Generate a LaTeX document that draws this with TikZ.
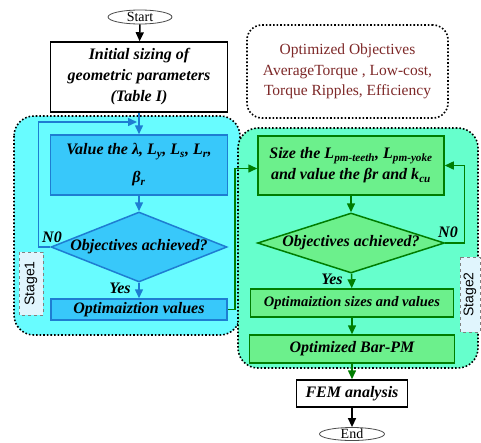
\documentclass[tikz,border=0pt]{standalone}
\usepackage{fontspec}
\setmainfont{Liberation Serif}
\newfontfamily\stagefont{Liberation Sans}
\usepackage{xcolor}
\usepackage{tikz}
\usetikzlibrary{arrows.meta, positioning, calc, shapes.geometric}

\definecolor{stageone}{RGB}{104,252,255}
\definecolor{stagetwo}{RGB}{102,255,204}
\definecolor{bluebox}{RGB}{56,200,250}
\definecolor{blueline}{RGB}{30,125,210}
\definecolor{greenbox}{RGB}{108,240,140}
\definecolor{greenline}{RGB}{0,125,0}
\definecolor{objred}{RGB}{125,40,40}

\begin{document}
\begin{tikzpicture}[x=1pt, y=-1pt,
  txt/.style={font=\fontsize{16}{21}\selectfont\bfseries\itshape, align=center},
  bstep/.style={txt, draw=blueline, fill=bluebox, line width=1.5pt, inner sep=0pt},
  gstep/.style={txt, draw=greenline, fill=greenbox, line width=1.5pt, inner sep=0pt},
  kstep/.style={txt, draw=black, fill=white, line width=1.5pt, inner sep=0pt},
  term/.style={ellipse, draw=black!70, fill=white, line width=0.8pt, inner xsep=0pt,
    inner ysep=-2.5pt, font=\fontsize{14}{14}\selectfont},
  region/.style={draw=black, dotted, line width=1.6pt, rounded corners=20pt},
  stagelbl/.style={draw=gray, dashed, fill=white!88!cyan, line width=0.8pt, rotate=90,
    inner sep=0pt, font=\stagefont\fontsize{14}{14}\selectfont},
  barrow/.style={draw=blueline, line width=1.5pt, -{Triangle[length=9pt,width=8pt]}},
  garrow/.style={draw=greenline, line width=1.5pt, -{Triangle[length=9pt,width=8pt]}},
  karrow/.style={draw=black, line width=1.5pt, -{Triangle[length=9pt,width=8pt]}}]

  \useasboundingbox (0,0) rectangle (481,442);

  % Stage regions
  \filldraw[region, fill=stageone] (14,116) rectangle (240,335);
  \filldraw[region, fill=stagetwo] (238,128) rectangle (478,368);

  % Objectives note
  \node[region, rounded corners=15pt, minimum width=201pt, minimum height=93pt,
    text=objred, align=center, font=\fontsize{15.5}{20.5}\selectfont] (objectives) at (347.5,71.5)
    {Optimized Objectives\\AverageTorque , Low-cost,\\Torque Ripples, Efficiency};

  % Start and initial sizing
  \node[term, minimum width=64pt, minimum height=14pt] (start) at (140,17) {Start};
  \node[kstep, minimum width=177pt, minimum height=70pt] (init) at (139,77)
    {Initial sizing of\\geometric parameters\\(Table I)};

  % Stage 1
  \node[bstep, minimum width=177pt, minimum height=60pt,
    font=\fontsize{16}{28}\selectfont\bfseries\itshape] (value) at (139,165)
    {Value the λ, L\textsubscript{y}, L\textsubscript{s}, L\textsubscript{r},\\β\textsubscript{r}};
  \node[bstep, diamond, aspect=2.5, minimum width=176pt, minimum height=70pt,
    label={[txt]center:Objectives achieved?}] (dia1) at (139,247) {};
  \node[bstep, minimum width=176pt, minimum height=21pt] (opt1) at (139,309.5)
    {Optimaiztion values};
  \node[stagelbl, minimum width=63pt, minimum height=24pt] (stage1) at (31,283.5) {Stage1};
  \node[txt] (no1) at (52,237) {N0};
  \node[txt] (yes1) at (120,288) {Yes};
  \coordinate (loopin) at (137,122);

  % Stage 2
  \node[gstep, minimum width=186pt, minimum height=59pt] (size) at (351,165.5)
    {Size the L\textsubscript{pm-teeth}, L\textsubscript{pm-yoke}\\and value the βr and k\textsubscript{cu}};
  \node[gstep, diamond, aspect=3.1, minimum width=187pt, minimum height=60pt,
    label={[txt]center:Objectives achieved?}] (dia2) at (351,243) {};
  \node[gstep, minimum width=203pt, minimum height=28pt,
    font=\fontsize{14.5}{19}\selectfont\bfseries\itshape] (opt2) at (352,303)
    {Optimaiztion sizes and values};
  \node[gstep, minimum width=205pt, minimum height=28pt] (barpm) at (352,349)
    {Optimized Bar-PM};
  \node[stagelbl, minimum width=75pt, minimum height=20pt] (stage2) at (470,294.5) {Stage2};
  \node[txt] (no2) at (448,232) {N0};
  \node[txt] (yes2) at (332,279) {Yes};

  % FEM and end
  \node[kstep, minimum width=111pt, minimum height=27pt] (fem) at (352,393.5) {FEM analysis};
  \node[term, minimum width=65pt, minimum height=13pt] (end) at (352,434) {End};

  % Connectors
  \draw[karrow] (start) -- (init);
  \draw[barrow] (init.south) -- (value.north);
  \draw[barrow] (value) -- (dia1);
  \draw[barrow] (dia1) -- (opt1);
  \draw[barrow] (dia1.west) -- ++(-12,0) |- (loopin);
  \draw[garrow] (opt1.east) -- ++(7,0) |- ([yshift=-3pt]size.west);
  \draw[garrow] (size) -- (dia2);
  \draw[garrow] (dia2) -- (opt2);
  \draw[garrow] (dia2.east) -- ++(19,0) |- (size.east);
  \draw[garrow] (opt2) -- (barpm);
  \draw[garrow] (barpm) -- (fem);
  \draw[karrow] (fem) -- (end);
\end{tikzpicture}
\end{document}
